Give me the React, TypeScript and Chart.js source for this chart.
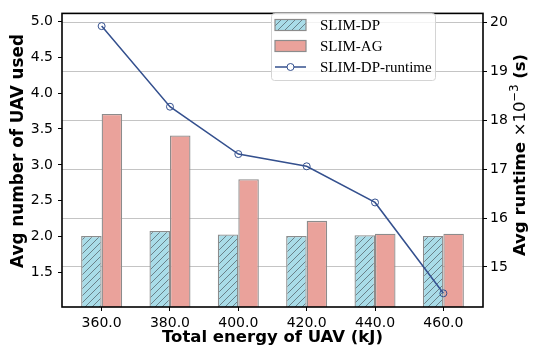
import React, { useEffect, useRef } from 'react';
import { Chart, registerables } from 'chart.js';

Chart.register(...registerables);

const categories = ['360.0', '380.0', '400.0', '420.0', '440.0', '460.0'];
const slimDP = [2.01, 2.08, 2.03, 2.01, 2.02, 2.01];
const slimAG = [3.71, 3.41, 2.8, 2.22, 2.04, 2.04];
const runtimeMs = [19.93, 18.28, 17.31, 17.06, 16.32, 14.46];

const DP_FILL = '#a9dce8';
const AG_FILL = '#eaa29b';
const EDGE = '#8c8c8c';
const HATCH = '#5a6a70';
const LINE = '#34508e';
const FONT = '"DejaVu Sans"';

function makeHatch(ctx: CanvasRenderingContext2D) {
  const s = 7;
  const c = document.createElement('canvas');
  c.width = s;
  c.height = s;
  const g = c.getContext('2d')!;
  g.fillStyle = DP_FILL;
  g.fillRect(0, 0, s, s);
  g.strokeStyle = HATCH;
  g.lineWidth = 0.8;
  g.beginPath();
  g.moveTo(0, s);
  g.lineTo(s, 0);
  g.moveTo(-1, 1);
  g.lineTo(1, -1);
  g.moveTo(s - 1, s + 1);
  g.lineTo(s + 1, s - 1);
  g.stroke();
  return ctx.createPattern(c, 'repeat')!;
}

export default function App() {
  const ref = useRef<HTMLCanvasElement>(null);

  useEffect(() => {
    const canvas = ref.current!;
    const ctx0 = canvas.getContext('2d')!;
    const hatch = makeHatch(ctx0);

    const overlay = {
      id: 'overlay',
      afterDraw(chart: any) {
        const { ctx, chartArea: a } = chart;
        ctx.save();
        // frame
        ctx.strokeStyle = '#000';
        ctx.lineWidth = 1.6;
        ctx.strokeRect(a.left, a.top, a.right - a.left, a.bottom - a.top);

        // left axis title
        ctx.save();
        ctx.translate(19, 151);
        ctx.rotate(-Math.PI / 2);
        ctx.fillStyle = '#000';
        ctx.font = `bold 16.8px ${FONT}`;
        ctx.textAlign = 'center';
        ctx.textBaseline = 'middle';
        ctx.fillText('Avg number of UAV used', 0, 0);
        ctx.restore();

        // right axis title with mixed fonts
        const parts = [
          { t: 'Avg runtime ', f: `bold 16.5px ${FONT}`, dy: 0 },
          { t: '×10', f: `16.5px ${FONT}`, dy: 0 },
          { t: '−3', f: `11.5px ${FONT}`, dy: -6 },
          { t: ' (s)', f: `bold 16.5px ${FONT}`, dy: 0 },
        ];
        let total = 0;
        const widths = parts.map((p) => {
          ctx.font = p.f;
          const w = ctx.measureText(p.t).width;
          total += w;
          return w;
        });
        ctx.save();
        ctx.translate(521, 155);
        ctx.rotate(-Math.PI / 2);
        ctx.fillStyle = '#000';
        ctx.textBaseline = 'middle';
        ctx.textAlign = 'left';
        let x = -total / 2;
        parts.forEach((p, i) => {
          ctx.font = p.f;
          ctx.fillText(p.t, x, p.dy);
          x += widths[i];
        });
        ctx.restore();
        ctx.restore();

        // legend
        ctx.save();
        const lx = 271, ly = 13, lw = 164, lh = 67;
        ctx.beginPath();
        ctx.roundRect(lx + 0.5, ly + 0.5, lw, lh, 3);
        ctx.fillStyle = 'rgba(255,255,255,0.8)';
        ctx.fill();
        ctx.strokeStyle = '#d4d4d4';
        ctx.lineWidth = 1;
        ctx.stroke();
        const rows = [
          { label: 'SLIM-DP', kind: 'hatch', y: 25 },
          { label: 'SLIM-AG', kind: 'fill', y: 46 },
          { label: 'SLIM-DP-runtime', kind: 'line', y: 67 },
        ];
        rows.forEach((r) => {
          const px = 275, pw = 31, ph = 11;
          if (r.kind === 'line') {
            ctx.strokeStyle = LINE;
            ctx.lineWidth = 1.5;
            ctx.beginPath();
            ctx.moveTo(px, r.y);
            ctx.lineTo(px + pw, r.y);
            ctx.stroke();
            ctx.beginPath();
            ctx.arc(px + pw / 2, r.y, 3.5, 0, Math.PI * 2);
            ctx.fillStyle = '#fff';
            ctx.fill();
            ctx.lineWidth = 1;
            ctx.stroke();
          } else {
            ctx.fillStyle = r.kind === 'hatch' ? hatch : AG_FILL;
            ctx.fillRect(px, r.y - ph / 2, pw, ph);
            ctx.strokeStyle = EDGE;
            ctx.lineWidth = 1.2;
            ctx.strokeRect(px, r.y - ph / 2, pw, ph);
          }
          ctx.fillStyle = '#000';
          ctx.font = '15px "Liberation Serif"';
          ctx.textBaseline = 'middle';
          ctx.textAlign = 'left';
          ctx.fillText(r.label, 320, r.y + 1);
        });
        ctx.restore();
      },
    };

    const tickFont = { family: FONT, size: 14 };
    const titleFont = { family: FONT, size: 16.5, weight: 'bold' as const };

    const chart = new Chart(canvas, {
      type: 'bar',
      data: {
        datasets: [
          {
            type: 'line',
            label: 'SLIM-DP-runtime',
            data: runtimeMs.map((v, i) => ({ x: i, y: v })),
            yAxisID: 'y2',
            borderColor: LINE,
            borderWidth: 1.5,
            pointRadius: 3.5,
            pointBorderWidth: 1,
            pointBackgroundColor: 'rgba(255,255,255,0)',
            pointBorderColor: LINE,
            tension: 0,
            order: 0,
          } as any,
          {
            label: 'SLIM-DP',
            data: slimDP.map((v, i) => ({ x: i, y: v })),
            yAxisID: 'y',
            backgroundColor: hatch,
            borderColor: EDGE,
            borderWidth: 1.3,
            categoryPercentage: 0.6,
            barPercentage: 1.0,
            order: 1,
          },
          {
            label: 'SLIM-AG',
            data: slimAG.map((v, i) => ({ x: i, y: v })),
            yAxisID: 'y',
            backgroundColor: AG_FILL,
            borderColor: EDGE,
            borderWidth: 1.3,
            categoryPercentage: 0.6,
            barPercentage: 1.0,
            order: 1,
          },
        ],
      },
      options: {
        animation: false,
        responsive: true,
        maintainAspectRatio: false,
        events: [],
        layout: { padding: { top: 7, left: 0, right: 0, bottom: 0 } },
        plugins: {
          legend: { display: false },
          tooltip: { enabled: false },
        },
        scales: {
          x: {
            type: 'linear',
            min: -0.58,
            max: 5.58,
            offset: false,
            afterFit: (s: any) => {
              s.height = 43;
            },
            border: { display: false },
            grid: { offset: false, drawOnChartArea: false, tickLength: 4, tickColor: '#000', lineWidth: 1 },
            ticks: {
              stepSize: 1,
              includeBounds: false,
              autoSkip: false,
              maxRotation: 0,
              padding: 4,
              color: '#000',
              font: tickFont,
              callback: (v: any) => categories[v] ?? '',
            },
            title: {
              display: true,
              text: 'Total energy of UAV (kJ)',
              color: '#000',
              font: titleFont,
              padding: { top: 0, bottom: 2.2 },
            },
          },
          y: {
            type: 'linear',
            position: 'left',
            min: 1.02,
            max: 5.11,
            afterFit: (s: any) => {
              s.width = 62;
            },
            border: { display: false },
            grid: { drawOnChartArea: false, tickLength: 4, tickColor: '#000', lineWidth: 1 },
            ticks: {
              stepSize: 0.5,
              includeBounds: false,
              padding: 5,
              color: '#000',
              font: tickFont,
              callback: (v: any) => Number(v).toFixed(1),
            },
          },
          y2: {
            type: 'linear',
            position: 'right',
            min: 14.18,
            max: 20.19,
            afterFit: (s: any) => {
              s.width = 54;
            },
            border: { display: false },
            grid: {
              drawOnChartArea: true,
              color: '#c4c4c4',
              lineWidth: 1,
              tickLength: 4,
              tickColor: '#000',
            },
            ticks: {
              stepSize: 1,
              includeBounds: false,
              padding: 3,
              color: '#000',
              font: tickFont,
              callback: (v: any) => String(v),
            },
          },
        },
      },
      plugins: [overlay],
    });

    return () => chart.destroy();
  }, []);

  return (
    <div style={{ position: 'fixed', left: 0, top: 0, width: 537, height: 350 }}>
      <canvas ref={ref} />
    </div>
  );
}
